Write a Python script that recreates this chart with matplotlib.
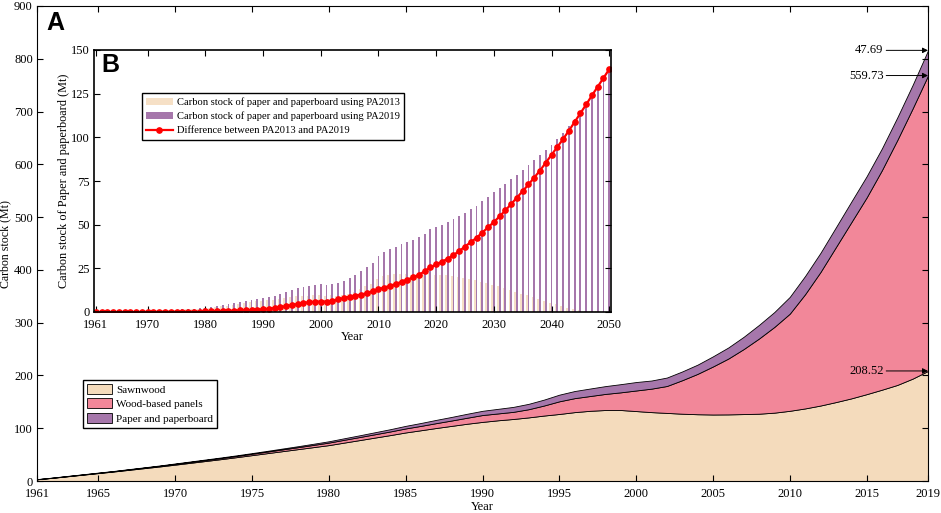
import numpy as np
import matplotlib
matplotlib.use('Agg')
import matplotlib.pyplot as plt

plt.rcParams['font.family'] = ['Liberation Serif', 'DejaVu Serif']

# main chart: carbon stock by product, 1961-2019 (Mt)
years = list(range(1961, 2020))
sawnwood = [3.2, 6.0, 9.0, 12.0, 15.0, 18.0, 21.2, 24.4, 27.6, 31.0,
            34.5, 38.0, 41.5, 45.2, 49.0, 52.8, 56.6, 60.4, 64.2, 68.0,
            72.8, 77.5, 82.3, 87.0, 92.0, 96.2, 100.5, 104.5, 108.5, 112.0,
            115.0, 117.5, 120.5, 124.0, 127.0, 130.5, 133.0, 134.5, 134.5, 132.5,
            130.5, 129.0, 127.5, 126.5, 126.0, 126.2, 126.8, 127.5, 129.5, 133.0,
            137.5, 143.0, 149.5, 156.5, 164.5, 173.0, 182.0, 194.0, 208.52]
panels = [0.1, 0.2, 0.3, 0.4, 0.5, 0.6, 0.8, 1.0, 1.2, 1.5,
          1.7, 1.9, 2.1, 2.3, 2.6, 2.9, 3.3, 3.7, 4.2, 4.8,
          5.3, 5.8, 6.3, 6.9, 7.6, 8.3, 9.2, 10.2, 11.4, 13.0,
          13.0, 13.5, 15.5, 19.0, 24.0, 26.5, 28.0, 30.5, 33.5, 39.0,
          44.5, 51.0, 63.5, 76.5, 91.0, 105.8, 123.2, 142.5, 162.5, 184.0,
          216.5, 253.0, 293.5, 333.5, 372.5, 416.0, 464.0, 512.0, 559.73]

# inset: paper and paperboard, 1961-2050 (Mt)
years_b = list(range(1961, 2051))
pa2013 = [0.3, 0.3, 0.4, 0.4, 0.5, 0.5, 0.6, 0.6, 0.7, 0.7,
          0.8, 0.9, 1.0, 1.1, 1.2, 1.3, 1.5, 1.7, 2.0, 2.2,
          2.5, 2.8, 3.2, 3.6, 4.1, 4.6, 5.2, 5.6, 6.1, 6.4,
          6.8, 7.1, 7.4, 7.9, 8.6, 8.9, 9.0, 9.2, 9.6, 10.0,
          9.4, 9.5, 9.4, 9.5, 10.4, 11.6, 13.2, 15.0, 16.2, 18.8,
          20.5, 21.3, 21.5, 21.7, 21.7, 21.4, 21.5, 21.2, 22.2, 21.4,
          21.2, 21.0, 20.7, 20.3, 19.3, 18.7, 18.2, 17.3, 16.5, 15.7,
          14.8, 13.8, 12.7, 11.5, 10.5, 9.5, 8.5, 7.6, 6.4, 5.3,
          4.3, 3.5, 2.5, 1.5, 1.0, 0.5, 0.4, 0.3, 0.2, 0.1]
pa2019 = [0.3, 0.3, 0.4, 0.4, 0.5, 0.5, 0.6, 0.6, 0.7, 0.8,
          0.9, 1.0, 1.1, 1.2, 1.3, 1.5, 1.7, 1.9, 2.2, 2.5,
          2.9, 3.3, 3.8, 4.3, 4.9, 5.5, 6.2, 6.8, 7.5, 8.0,
          8.7, 9.4, 10.2, 11.2, 12.6, 13.5, 14.2, 14.8, 15.5, 16.0,
          15.4, 16.0, 16.6, 17.5, 19.2, 21.0, 23.2, 25.8, 28.2, 31.8,
          34.5, 36.3, 37.5, 39.0, 40.2, 41.2, 42.8, 44.5, 47.69, 48.6,
          50.0, 51.5, 53.3, 55.0, 56.8, 58.7, 60.9, 63.3, 66.0, 68.5,
          71.0, 73.5, 76.0, 78.5, 81.2, 84.0, 87.0, 90.0, 93.0, 95.5,
          98.8, 102.5, 106.3, 110.3, 114.4, 118.7, 123.2, 127.9, 132.8, 138.0]
difference = [0.0, 0.0, 0.0, 0.0, 0.0, 0.0, 0.0, 0.0, 0.0, 0.1,
              0.1, 0.1, 0.1, 0.1, 0.1, 0.2, 0.2, 0.2, 0.2, 0.3,
              0.4, 0.5, 0.6, 0.7, 0.8, 0.9, 1.0, 1.2, 1.4, 1.6,
              1.9, 2.3, 2.8, 3.3, 4.0, 4.6, 5.2, 5.6, 5.9, 6.0,
              6.0, 6.5, 7.2, 8.0, 8.8, 9.4, 10.0, 10.8, 12.0, 13.0,
              14.0, 15.0, 16.0, 17.3, 18.5, 19.8, 21.3, 23.3, 25.5, 27.2,
              28.8, 30.5, 32.6, 34.9, 37.5, 40.0, 42.5, 45.5, 48.5, 51.5,
              54.8, 58.2, 61.8, 65.5, 69.2, 73.0, 77.0, 81.0, 85.5, 90.0,
              94.5, 99.0, 103.8, 108.8, 113.8, 118.8, 124.0, 129.0, 134.0, 139.0]

paper = pa2019[:len(years)]

c_saw = '#F4DBBC'
c_pan = '#F28799'
c_pap = '#A677AB'

fig = plt.figure(figsize=(9.41, 5.13), dpi=100)
ax = fig.add_axes([37/941, 1 - 481/513, (928 - 37)/941, (481 - 6)/513])

ax.stackplot(years, sawnwood, panels, paper, colors=[c_saw, c_pan, c_pap],
             edgecolor='black', linewidth=0.6,
             labels=['Sawnwood', 'Wood-based panels', 'Paper and paperboard'])
ax.set_xlim(1961, 2019)
ax.set_ylim(0, 900)
ax.set_xticks([1961, 1965, 1970, 1975, 1980, 1985, 1990, 1995, 2000, 2005, 2010, 2015, 2019])
ax.set_yticks(range(0, 901, 100))
ax.tick_params(direction='in', top=True, right=True, labelsize=9, length=4, width=0.8, pad=3)
ax.tick_params(axis='x', pad=5)
ax.set_xlabel('Year', fontsize=9, labelpad=1)
ax.set_ylabel('Carbon stock (Mt)', fontsize=8.6, labelpad=2)
for s in ax.spines.values():
    s.set_linewidth(0.8)
ax.legend(loc='lower left', bbox_to_anchor=(0.052, 0.112), fontsize=8,
          frameon=True, fancybox=False, edgecolor='black', framealpha=1,
          handlelength=2.2, handleheight=1.0, borderpad=0.35, labelspacing=0.35,
          handletextpad=0.4, borderaxespad=0)
ax.text(0.01, 0.99, 'A', transform=ax.transAxes, fontsize=18, fontweight='bold',
        family='Liberation Sans', va='top', ha='left')

total_top = sawnwood[-1] + panels[-1] + paper[-1]
arrows = [(total_top, '47.69'), (sawnwood[-1] + panels[-1], '559.73'), (sawnwood[-1], '208.52')]
for yv, lab in arrows:
    ax.annotate(lab, xy=(2019, yv), xytext=(2016.1, yv), fontsize=9, va='center', ha='right',
                arrowprops=dict(arrowstyle='-|>', color='black', lw=0.7, mutation_scale=8,
                                shrinkA=0, shrinkB=0))

# inset
axb = fig.add_axes([94/941, 1 - 312/513, (611 - 94)/941, (312 - 50)/513])
axb.set_facecolor('white')
xb = np.array(years_b)
h1 = axb.bar(xb - 0.3, pa2013, width=0.32, color='#F6E0C6')
h2 = axb.bar(xb, pa2019, width=0.32, color=c_pap)
h3, = axb.plot(xb, difference, color='red', marker='o', markersize=3.8, linewidth=1.6)
axb.set_xlim(1960.7, 2050.3)
axb.set_ylim(0, 150)
axb.set_xticks([1961, 1970, 1980, 1990, 2000, 2010, 2020, 2030, 2040, 2050])
axb.set_yticks(range(0, 151, 25))
axb.tick_params(direction='in', top=True, right=True, labelsize=9, length=4, width=0.8, pad=3)
axb.tick_params(axis='x', pad=5)
axb.set_xlabel('Year', fontsize=9, labelpad=0)
axb.set_ylabel('Carbon stock of Paper and paperboard (Mt)', fontsize=8.8, labelpad=1)
for s in axb.spines.values():
    s.set_linewidth(1.2)
axb.legend([h1, h2, h3],
           ['Carbon stock of paper and paperboard using PA2013',
            'Carbon stock of paper and paperboard using PA2019',
            'Difference between PA2013 and PA2019'],
           loc='upper left', bbox_to_anchor=(0.093, 0.836), fontsize=7.6,
           frameon=True, fancybox=False, edgecolor='black', framealpha=1,
           handlelength=2.5, borderpad=0.4, labelspacing=0.45, handletextpad=0.4,
           borderaxespad=0)
axb.text(0.015, 0.99, 'B', transform=axb.transAxes, fontsize=18, fontweight='bold',
         family='Liberation Sans', va='top', ha='left')

fig.savefig('out.png', dpi=100)
